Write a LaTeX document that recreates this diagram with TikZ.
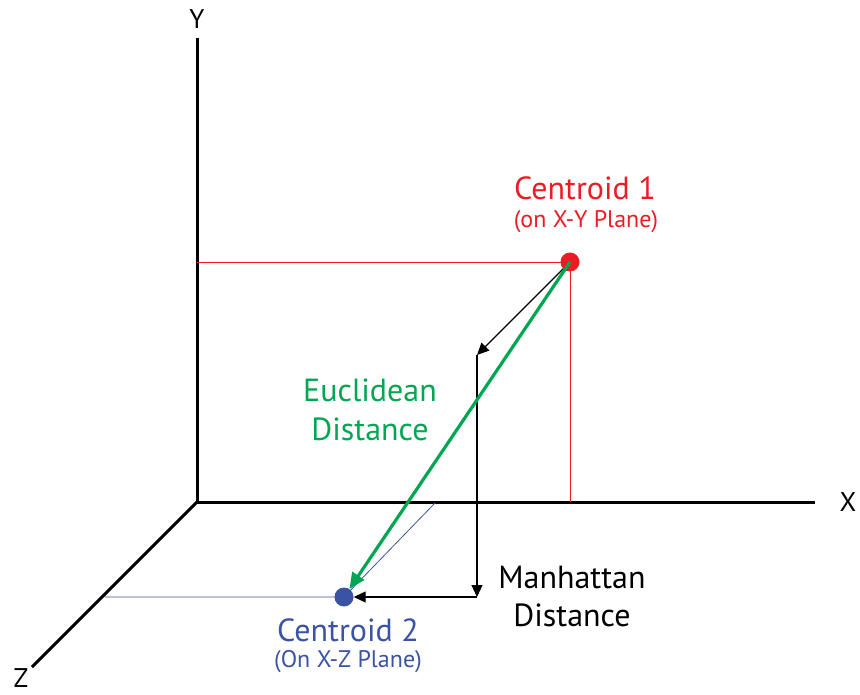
\documentclass[tikz,border=0pt]{standalone}
\usepackage{fontspec}
\setmainfont{PT Sans}
\usetikzlibrary{arrows.meta}
\definecolor{cred}{RGB}{237,28,36}
\definecolor{cgreen}{RGB}{0,166,81}
\definecolor{cblue}{RGB}{59,83,164}
\begin{document}
\begin{tikzpicture}[x=1pt, y=-1pt,
        axis/.style={line width=3pt},
        guide/.style={line width=0.8pt},
        dist/.style={line width=1.1pt, -{Triangle[length=12pt, width=11pt]}},
        centroid/.style={circle, inner sep=0pt, minimum size=19pt},
        axlab/.style={font=\fontsize{27}{30}\selectfont, inner sep=1pt},
        big/.style={font=\fontsize{32}{39}\selectfont},
        small/.style={font=\fontsize{24}{28}\selectfont}]
        \useasboundingbox (0,0) rectangle (860,695);
        % Axes
        \coordinate (O) at (197,502);
        \coordinate (ytop) at (197,38);
        \coordinate (xend) at (815,502);
        \coordinate (zend) at (32,667);
        \draw[axis] (ytop) -- (O) -- (xend);
        \draw[axis] (O) -- (zend);
        \node[axlab] (ylab) at (197,19) {Y};
        \node[axlab] (xlab) at (848,502) {X};
        \node[axlab, inner sep=0pt] (zlab) at (21,678) {Z};
        
        % Centroids
        \node[centroid, fill=cred] (c1) at (570,262) {};
        \node[centroid, fill=cblue] (c2) at (344,597) {};
        
        % Projection lines
        \coordinate (c1y) at (197,262);
        \coordinate (c1x) at (570,502);
        \coordinate (c2z) at (105,597);
        \coordinate (c2x) at (435,503);
        \draw[guide, cred] (c1y) -- (c1.center) -- (c1x);
        \draw[guide, cblue] (c2z) -- (c2.center) -- (c2x);
        
        % Manhattan distance
        \coordinate (m1) at (477,355);
        \coordinate (m2) at (477,597);
        \draw[dist] (c1) -- (m1);
        \draw[dist] (m1) -- (m2);
        \draw[dist] (m2) -- (c2);
        
        % Euclidean distance
        \draw[line width=3.2pt, cgreen, -{Triangle[length=16pt, width=14pt]}] (c1.center) -- (c2);
        
        % Labels
        \node[big, cred] (c1lab) at (585,188) {Centroid 1};
        \node[small, cred] (c1sub) at (586,222) {(on X-Y Plane)};
        \node[big, cblue] (c2lab) at (348,630) {Centroid 2};
        \node[small, cblue] (c2sub) at (348,662) {(On X-Z Plane)};
        \node[big, cgreen, align=center] (eulab) at (370,410) {Euclidean\\Distance};
        \node[big, align=center, font=\fontsize{32}{38}\selectfont] (malab) at (572,596) {Manhattan\\Distance};
\end{tikzpicture}
\end{document}
